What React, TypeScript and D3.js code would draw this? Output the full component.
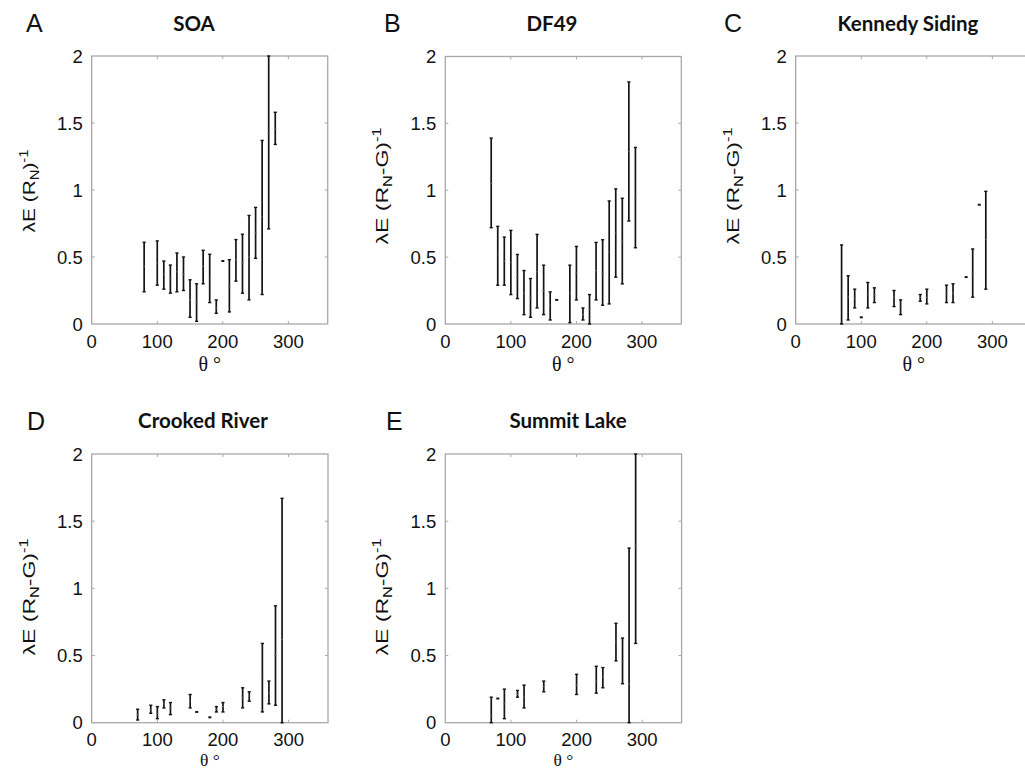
import React from "react";
import * as d3 from "d3";

// ---------- data (theta in degrees, values of λE (R_N - G)^-1) ----------
const xTicks = [0, 100, 200, 300];
const yTicks = [0, 0.5, 1, 1.5, 2];

const soaTheta = [80, 100, 110, 120, 130, 140, 150, 160, 170, 180, 190, 200, 210, 220, 230, 240, 250, 260, 270, 280];
const soaMean = [0.43, 0.45, 0.37, 0.34, 0.39, 0.37, 0.18, 0.16, 0.43, 0.34, 0.12, 0.47, 0.28, 0.48, 0.45, 0.5, 0.68, 0.8, 1.42, 1.46];
const soaLow = [0.24, 0.29, 0.26, 0.23, 0.24, 0.25, 0.05, 0.02, 0.3, 0.16, 0.08, 0.47, 0.09, 0.32, 0.23, 0.18, 0.49, 0.22, 0.71, 1.34];
const soaHigh = [0.61, 0.62, 0.47, 0.44, 0.53, 0.5, 0.33, 0.3, 0.55, 0.52, 0.18, 0.47, 0.48, 0.63, 0.67, 0.81, 0.87, 1.37, 2.0, 1.58];

const dfTheta = [70, 80, 90, 100, 110, 120, 130, 140, 150, 160, 170, 190, 200, 210, 220, 230, 240, 250, 260, 270, 280, 290];
const dfMean = [1.05, 0.51, 0.47, 0.46, 0.35, 0.23, 0.2, 0.39, 0.25, 0.14, 0.18, 0.23, 0.38, 0.07, 0.11, 0.4, 0.38, 0.54, 0.68, 0.62, 1.29, 0.94];
const dfLow = [0.72, 0.29, 0.29, 0.22, 0.19, 0.07, 0.05, 0.12, 0.07, 0.03, 0.18, 0.01, 0.18, 0.03, 0.0, 0.18, 0.14, 0.15, 0.35, 0.3, 0.77, 0.57];
const dfHigh = [1.39, 0.73, 0.65, 0.7, 0.52, 0.4, 0.34, 0.67, 0.44, 0.24, 0.18, 0.44, 0.58, 0.12, 0.22, 0.61, 0.63, 0.92, 1.01, 0.94, 1.81, 1.32];

const ksTheta = [70, 80, 90, 100, 110, 120, 150, 160, 190, 200, 230, 240, 260, 270, 280, 290];
const ksMean = [0.23, 0.2, 0.19, 0.05, 0.22, 0.22, 0.2, 0.13, 0.2, 0.2, 0.23, 0.23, 0.35, 0.38, 0.89, 0.63];
const ksLow = [0.0, 0.03, 0.12, 0.05, 0.12, 0.16, 0.13, 0.07, 0.17, 0.15, 0.16, 0.16, 0.35, 0.2, 0.89, 0.26];
const ksHigh = [0.59, 0.36, 0.26, 0.05, 0.31, 0.27, 0.25, 0.18, 0.22, 0.26, 0.29, 0.3, 0.35, 0.56, 0.89, 0.99];

const crTheta = [70, 90, 100, 110, 120, 150, 160, 180, 190, 200, 230, 240, 260, 270, 280, 290];
const crMean = [0.06, 0.1, 0.07, 0.14, 0.11, 0.16, 0.08, 0.04, 0.1, 0.12, 0.19, 0.2, 0.34, 0.22, 0.5, 0.62];
const crLow = [0.02, 0.07, 0.03, 0.11, 0.06, 0.11, 0.08, 0.04, 0.08, 0.08, 0.11, 0.16, 0.08, 0.14, 0.13, 0.0];
const crHigh = [0.1, 0.13, 0.12, 0.17, 0.15, 0.21, 0.08, 0.04, 0.12, 0.15, 0.26, 0.23, 0.59, 0.31, 0.87, 1.67];

const slTheta = [70, 80, 90, 110, 120, 150, 200, 230, 240, 260, 270, 280, 290];
const slMean = [0.05, 0.18, 0.14, 0.21, 0.19, 0.27, 0.28, 0.31, 0.34, 0.6, 0.46, 0.29, 1.32];
const slLow = [0.0, 0.18, 0.03, 0.19, 0.11, 0.23, 0.21, 0.22, 0.26, 0.46, 0.29, 0.0, 0.59];
const slHigh = [0.19, 0.18, 0.25, 0.24, 0.28, 0.31, 0.36, 0.42, 0.41, 0.74, 0.63, 1.3, 2.0];

const panelLetters = ["A", "B", "C", "D", "E"];
const panelTitles = ["SOA", "DF49", "Kennedy Siding", "Crooked River", "Summit Lake"];

// ---------- layout ----------
const W = 1025;
const H = 769;
const layout = [
  { left: 91.7, top: 56, w: 236, h: 268, titleX: 194, titleY: 31, letterX: 26, letterY: 32, labelY: 191, useG: false, tickDy: 24, thetaY: 371, thetaSize: 20 },
  { left: 445.3, top: 56.5, w: 236, h: 267.5, titleX: 552, titleY: 31, letterX: 384, letterY: 32, labelY: 186, useG: true, tickDy: 24, thetaY: 371, thetaSize: 20 },
  { left: 795.7, top: 56, w: 236, h: 268, titleX: 908, titleY: 31, letterX: 724, letterY: 32, labelY: 186, useG: true, tickDy: 24, thetaY: 371, thetaSize: 20 },
  { left: 91.7, top: 454, w: 236.3, h: 268.7, titleX: 203, titleY: 428, letterX: 27, letterY: 430, labelY: 597, useG: true, tickDy: 23, thetaY: 766, thetaSize: 17.5 },
  { left: 445.3, top: 454, w: 236.3, h: 268.7, titleX: 568, titleY: 428, letterX: 386, letterY: 430, labelY: 597, useG: true, tickDy: 23, thetaY: 766, thetaSize: 17.5 },
];
const series = [
  { theta: soaTheta, mean: soaMean, low: soaLow, high: soaHigh },
  { theta: dfTheta, mean: dfMean, low: dfLow, high: dfHigh },
  { theta: ksTheta, mean: ksMean, low: ksLow, high: ksHigh },
  { theta: crTheta, mean: crMean, low: crLow, high: crHigh },
  { theta: slTheta, mean: slMean, low: slLow, high: slHigh },
];

const AXIS = "#a8a8a8";
const INK = "#141414";
const SANS = "'Liberation Sans', Arial, Helvetica, sans-serif";
const TITLE_FONT = "Lato, 'Open Sans', sans-serif";
const SERIF = "'Liberation Serif', 'DejaVu Serif', serif";

function Panel({ idx }: { idx: number }) {
  const L = layout[idx];
  const s = series[idx];
  const x = d3.scaleLinear().domain([0, 360]).range([L.left, L.left + L.w]);
  const y = d3.scaleLinear().domain([0, 2]).range([L.top + L.h, L.top]);
  const bottom = L.top + L.h;
  const right = L.left + L.w;
  const tk = 3;
  const cap = 1.6;
  return (
    <g>
      <text x={L.letterX} y={L.letterY} fontFamily={SANS} fontSize={25} fill="#111">
        {panelLetters[idx]}
      </text>
      <text x={L.titleX} y={L.titleY} textAnchor="middle" fontFamily={TITLE_FONT} fontWeight={700} fontSize={20.5} fill="#111">
        {panelTitles[idx]}
      </text>
      <rect x={L.left} y={L.top} width={L.w} height={L.h} fill="white" stroke={AXIS} strokeWidth={1.3} />
      {xTicks.filter((t) => t > 0).map((t) => (
        <g key={"xt" + t}>
          <line x1={x(t)} x2={x(t)} y1={bottom} y2={bottom - tk} stroke={AXIS} strokeWidth={1} />
          <line x1={x(t)} x2={x(t)} y1={L.top} y2={L.top + tk} stroke={AXIS} strokeWidth={1} />
        </g>
      ))}
      {yTicks.filter((t) => t > 0 && t < 2).map((t) => (
        <g key={"yt" + t}>
          <line x1={L.left} x2={L.left + tk} y1={y(t)} y2={y(t)} stroke={AXIS} strokeWidth={1} />
          <line x1={right} x2={right - tk} y1={y(t)} y2={y(t)} stroke={AXIS} strokeWidth={1} />
        </g>
      ))}
      {xTicks.map((t) => (
        <text key={"xl" + t} x={x(t)} y={bottom + L.tickDy} textAnchor="middle" fontFamily={SANS} fontSize={18.5} fill="#111">
          {t}
        </text>
      ))}
      {yTicks.map((t) => (
        <text key={"yl" + t} x={L.left - 9} y={y(t)} dy="0.36em" textAnchor="end" fontFamily={SANS} fontSize={18.5} fill="#111">
          {t}
        </text>
      ))}
      <text x={(L.left + right) / 2} y={L.thetaY} textAnchor="middle" fontFamily={SERIF} fontSize={L.thetaSize} fill="#111">
        θ °
      </text>
      <text
        transform={`translate(${L.left - 57},${L.labelY}) rotate(-90)`}
        textAnchor="middle"
        fontFamily={SANS}
        fontSize={17}
        fill="#111"
        textLength={L.useG ? 117 : 83}
        lengthAdjust="spacingAndGlyphs"
      >
        λE (R
        <tspan fontSize={12} dy={4}>N</tspan>
        <tspan dy={-4}>{L.useG ? "-G)" : ")"}</tspan>
        <tspan fontSize={12} dy={-7}>-1</tspan>
      </text>
      {s.theta.map((t, i) => {
        const cx = x(t);
        const y1 = y(s.low[i]);
        const y2 = y(s.high[i]);
        if (Math.abs(y1 - y2) < 1) {
          return <rect key={"b" + i} x={cx - 1.5} y={y(s.mean[i]) - 1} width={3} height={2} fill={INK} />;
        }
        return (
          <g key={"b" + i}>
            <line x1={cx} x2={cx} y1={y1} y2={y2} stroke={INK} strokeWidth={1.7} />
            <line x1={cx - cap} x2={cx + cap} y1={y1} y2={y1} stroke={INK} strokeWidth={1.4} />
            <line x1={cx - cap} x2={cx + cap} y1={y2} y2={y2} stroke={INK} strokeWidth={1.4} />
            <line x1={cx - 1} x2={cx + 1} y1={y(s.mean[i])} y2={y(s.mean[i])} stroke="#666" strokeWidth={1} />
          </g>
        );
      })}
    </g>
  );
}

export default function App() {
  return (
    <div style={{ position: "absolute", left: 0, top: 0, width: W, height: H, overflow: "hidden" }}>
      <svg width={W} height={H} style={{ display: "block", background: "white" }}>
        <rect x={0} y={0} width={W} height={H} fill="white" />
        {layout.map((_, i) => (
          <Panel key={i} idx={i} />
        ))}
      </svg>
    </div>
  );
}
